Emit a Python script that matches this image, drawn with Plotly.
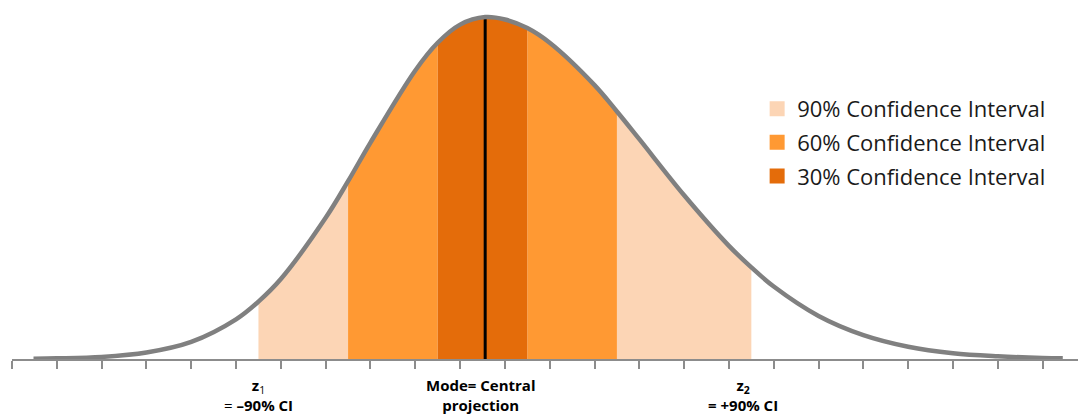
import plotly.graph_objects as go

# ---- data ----
curve_x = [0.48, 1, 2, 3, 4, 5, 5.5, 6, 7, 7.5, 8, 9, 9.5, 10, 10.56,
           11, 11.5, 12, 13, 13.5, 14, 15, 16, 16.5, 17, 18, 19, 20, 21, 22, 23, 23.45]
curve_y = [0.1, 0.2, 0.6, 1.9, 5.0, 11.6, 16.8, 23.4, 41.3, 52.0, 63.3, 84.4, 92.5, 97.8, 100.0,
           99.3, 96.8, 92.5, 80.1, 72.4, 64.3, 47.9, 33.1, 26.8, 21.2, 12.6, 7.0, 3.6, 1.7, 0.8, 0.3, 0.2]

mode_x = 10.56
band_edges = [5.5, 7.5, 9.5, 11.5, 13.5, 16.5]   # lower 90, lower 60, lower 30, upper 30, upper 60, upper 90
band_names = ["90% Confidence Interval", "60% Confidence Interval", "30% Confidence Interval"]
band_colors = ["#FCD5B5", "#FF9933", "#E46C0A"]

tick_positions = list(range(0, 24))

label_x = [5.49, 10.47, 16.31]
label_text = ["<b>z</b><sub>1</sub><br>= <b>–90% CI</b>",
              "<b>Mode= Central<br>projection</b>",
              "<b>z<sub>2</sub><br>= +90% CI</b>"]

fig = go.Figure()

def segment(a, b):
    xs, ys = [], []
    for x, y in zip(curve_x, curve_y):
        if a - 1e-9 <= x <= b + 1e-9:
            xs.append(x)
            ys.append(y)
    return xs, ys

segments = [
    (band_edges[0], band_edges[1], 0),
    (band_edges[4], band_edges[5], 0),
    (band_edges[1], band_edges[2], 1),
    (band_edges[3], band_edges[4], 1),
    (band_edges[2], band_edges[3], 2),
]
for lo, hi, lvl in segments:
    xs, ys = segment(lo, hi)
    fig.add_trace(go.Scatter(
        x=xs, y=ys, mode="lines", line=dict(width=0, shape="spline", color=band_colors[lvl]),
        fill="tozeroy", fillcolor=band_colors[lvl], showlegend=False, hoverinfo="skip"))

for i, (name, col) in enumerate(zip(band_names, band_colors)):
    fig.add_trace(go.Scatter(
        x=[None], y=[None], mode="markers", name=name,
        marker=dict(symbol="square", size=15, color=col),
        legendgroup=f"g{i}", showlegend=True))

fig.add_trace(go.Scatter(
    x=[mode_x, mode_x], y=[0, max(curve_y)], mode="lines",
    line=dict(color="black", width=3), showlegend=False, hoverinfo="skip"))

fig.add_trace(go.Scatter(
    x=curve_x, y=curve_y, mode="lines",
    line=dict(color="#808080", width=4.5, shape="spline"),
    showlegend=False, cliponaxis=False))

for x, t in zip(label_x, label_text):
    fig.add_annotation(x=x, y=-0.04, xref="x", yref="paper", text=t, showarrow=False,
                       yanchor="top", xanchor="center",
                       font=dict(family="Open Sans", size=15, color="black"))

fig.update_xaxes(range=[0, 23.79], showgrid=False, zeroline=False,
                 showline=True, linecolor="#8C8C8C", linewidth=1.5,
                 ticks="outside", ticklen=8, tickcolor="#8C8C8C", tickwidth=1.5,
                 tickvals=tick_positions, showticklabels=False)
fig.update_yaxes(range=[0, 105], showgrid=False, zeroline=False, showline=False,
                 showticklabels=False, ticks="")

fig.update_layout(
    width=1078, height=418,
    margin=dict(l=12, r=0, t=0, b=59),
    paper_bgcolor="white", plot_bgcolor="white",
    font=dict(family="Open Sans", color="#1a1a1a"),
    legend=dict(x=0.699, y=0.755, xanchor="left", yanchor="top",
                font=dict(family="Open Sans", size=22, color="#1a1a1a"),
                tracegroupgap=2, bgcolor="rgba(0,0,0,0)"),
    showlegend=True,
)

fig.write_html("out.html", config={"displayModeBar": False},
               post_script="document.body.style.margin='0px';document.body.style.overflow='hidden';")
